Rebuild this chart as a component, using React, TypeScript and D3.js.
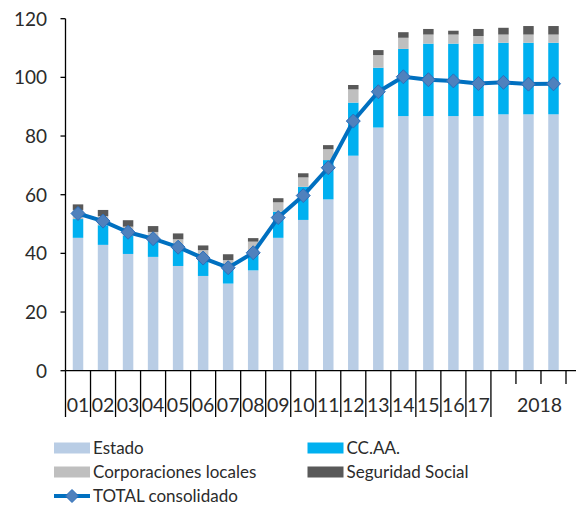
import React from "react";
import * as d3 from "d3";

const categories = ["01", "02", "03", "04", "05", "06", "07", "08", "09", "10", "11", "12", "13", "14", "15", "16", "17", "18a", "18b", "18c"];
const tickLabels = ["01", "02", "03", "04", "05", "06", "07", "08", "09", "10", "11", "12", "13", "14", "15", "16", "17", "", "", ""];
const groupLabel = "2018";
const estado = [45.3, 42.9, 39.8, 38.8, 35.7, 32.3, 29.7, 34.2, 45.3, 51.4, 58.4, 73.3, 82.9, 86.8, 86.8, 86.8, 86.8, 87.4, 87.4, 87.4];
const ccaa = [6.4, 6.7, 6.3, 5.6, 6.2, 5.9, 5.3, 6.8, 8.9, 11.3, 13.4, 18.1, 20.4, 22.9, 24.7, 24.7, 24.7, 24.4, 24.4, 24.4];
const ccll = [3.1, 3.1, 3.0, 2.9, 2.9, 2.9, 2.7, 3.0, 3.2, 3.2, 3.7, 4.5, 4.3, 3.8, 3.1, 3.1, 2.6, 2.8, 2.8, 2.8];
const segSocial = [1.9, 2.1, 2.2, 2.0, 2.0, 1.6, 2.0, 1.2, 1.4, 1.4, 1.4, 1.5, 1.7, 1.9, 1.9, 1.3, 2.4, 2.3, 2.9, 2.9];
const total = [53.6, 51.0, 47.2, 45.0, 42.1, 38.4, 35.1, 40.2, 52.2, 59.7, 69.2, 85.1, 95.1, 100.2, 99.2, 98.8, 97.9, 98.3, 97.7, 97.8];
const seriesNames = ["Estado", "CC.AA.", "Corporaciones locales", "Seguridad Social"];
const totalName = "TOTAL consolidado";
const yTicks = [0, 20, 40, 60, 80, 100, 120];

const colors = ["#b9cde5", "#00b0f0", "#bfbfbf", "#595959"];
const lineColor = "#0070c0";
const markerFill = "#4f81bd";
const markerStroke = "#2a6ebb";
const FONT = "Lato, 'Open Sans', sans-serif";
const textColor = "#2b2b2b";

export default function App() {
  const W = 581, H = 506;
  const x0 = 65.5, x1 = 566, yTop = 18.7, yBot = 370.7;
  const x = d3.scaleBand<string>().domain(categories).range([x0, x1]).paddingInner(0).paddingOuter(0);
  const y = d3.scaleLinear().domain([0, 120]).range([yBot, yTop]);
  const barW = 10.5;

  const rows = categories.map((c, i) => ({ cat: c, s0: estado[i], s1: ccaa[i], s2: ccll[i], s3: segSocial[i] }));
  const stack = d3.stack<any>().keys(["s0", "s1", "s2", "s3"]);
  const layers = stack(rows);

  const cx = (c: string) => (x(c) as number) + x.bandwidth() / 2;
  const linePath = d3.line<number>().x((_, i) => cx(categories[i])).y((d) => y(d))(total) as string;
  const diamond = (px: number, py: number, r: number) => `M${px},${py - r}L${px + r},${py}L${px},${py + r}L${px - r},${py}Z`;

  const boundaries = categories.map((c) => x(c) as number).concat([x1]);
  const lastLong = categories.indexOf("18a");

  const legendItems = [
    { name: seriesNames[0], color: colors[0], lx: 54, ly: 448 },
    { name: seriesNames[1], color: colors[1], lx: 307.5, ly: 448 },
    { name: seriesNames[2], color: colors[2], lx: 54, ly: 472 },
    { name: seriesNames[3], color: colors[3], lx: 307.5, ly: 472 },
  ];

  return (
    <div style={{ position: "absolute", left: 0, top: 0 }}>
      <svg width={W} height={H} style={{ display: "block", background: "#fff" }}>
        {/* bars */}
        {layers.map((layer, li) => (
          <g key={li} fill={colors[li]}>
            {layer.map((d, i) => (
              <rect key={i} x={cx(categories[i]) - barW / 2} y={y(d[1])} width={barW} height={y(d[0]) - y(d[1])} />
            ))}
          </g>
        ))}
        {/* y axis */}
        <line x1={x0} x2={x0} y1={yTop} y2={yBot} stroke="#000" strokeWidth={1.3} />
        {yTicks.map((t) => (
          <g key={t}>
            <line x1={x0 - 5} x2={x0} y1={y(t)} y2={y(t)} stroke="#000" strokeWidth={1.3} />
            <text x={47} y={y(t)} dy="0.36em" textAnchor="end" fontFamily={FONT} fontSize={19} fill={textColor}>{t}</text>
          </g>
        ))}
        {/* x axis */}
        <line x1={x0} x2={576} y1={yBot} y2={yBot} stroke="#000" strokeWidth={1.3} />
        {boundaries.map((b, i) => (
          <line key={i} x1={b} x2={b} y1={yBot} y2={i <= lastLong ? 417 : 384} stroke="#000" strokeWidth={1.3} />
        ))}
        {tickLabels.map((t, i) => (
          t ? <text key={i} x={cx(categories[i])} y={412} textAnchor="middle" fontFamily={FONT} fontSize={19.5} fill={textColor}>{t}</text> : null
        ))}
        <text x={(x("18b") as number) + 1} y={412} textAnchor="start" fontFamily={FONT} fontSize={19.5} fill={textColor}>{groupLabel}</text>
        {/* total line */}
        <path d={linePath} fill="none" stroke={lineColor} strokeWidth={4} strokeLinejoin="round" />
        {total.map((v, i) => (
          <path key={i} d={diamond(cx(categories[i]), y(v), 7)} fill={markerFill} stroke={markerStroke} strokeWidth={1} />
        ))}
        {/* legend */}
        {legendItems.map((it) => (
          <g key={it.name}>
            <rect x={it.lx} y={it.ly - 5.5} width={36} height={11} fill={it.color} />
            <text x={it.lx + 39} y={it.ly} dy="0.36em" fontFamily={FONT} fontSize={17} fill={textColor}>{it.name}</text>
          </g>
        ))}
        <g>
          <line x1={54} x2={90} y1={496} y2={496} stroke={lineColor} strokeWidth={4} />
          <path d={diamond(72, 496, 6.5)} fill={markerFill} stroke={markerStroke} strokeWidth={1} />
          <text x={93} y={496} dy="0.36em" fontFamily={FONT} fontSize={17} fill={textColor}>{totalName}</text>
        </g>
      </svg>
    </div>
  );
}
